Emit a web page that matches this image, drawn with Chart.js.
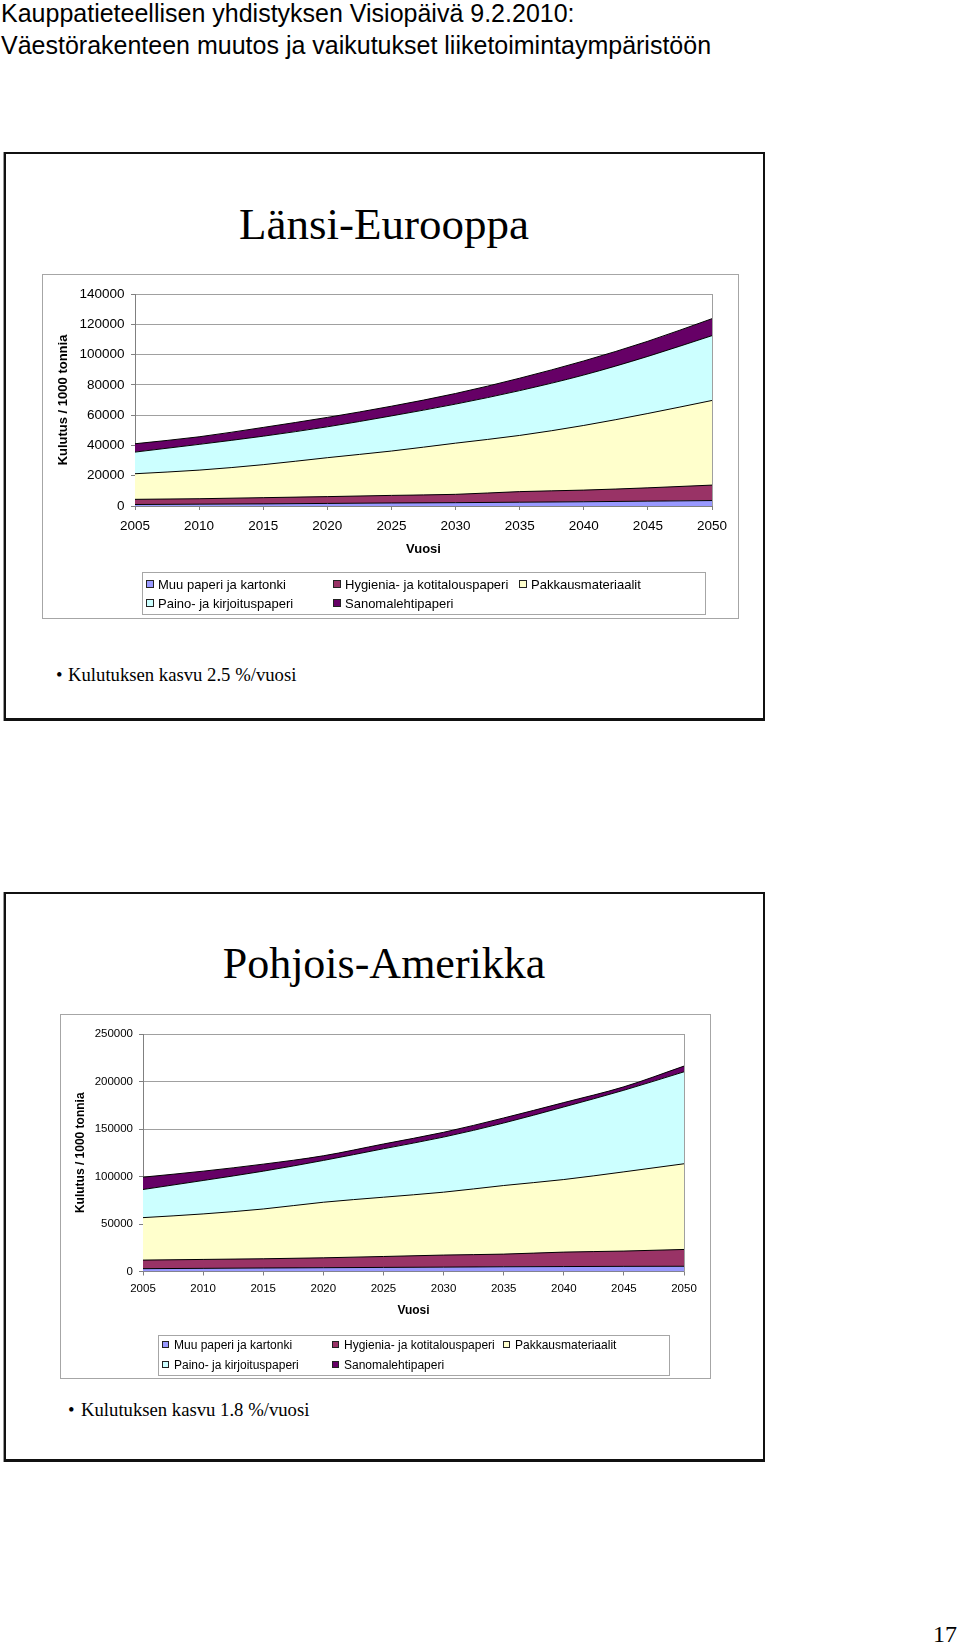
<!DOCTYPE html>
<html><head><meta charset="utf-8">
<script src="https://cdn.jsdelivr.net/npm/chart.js@4.4.1/dist/chart.umd.min.js"></script>
<style>
html,body{margin:0;padding:0;background:#fff;}
body{width:960px;height:1645px;position:relative;overflow:hidden;font-family:"Liberation Sans",Arial,sans-serif;color:#000;}
.t{position:absolute;white-space:nowrap;}
.hdr{font-size:25px;line-height:28px;left:1px;}
.slide{position:absolute;border:2px solid #111;border-bottom-width:3px;box-sizing:border-box;box-shadow:-1px 0 0 #999;}
.ttl{font-family:"Liberation Serif","Times New Roman",serif;line-height:50px;left:4px;width:760px;text-align:center;}
.cbox{position:absolute;border:1px solid #a6a6a6;box-sizing:border-box;}
canvas{position:absolute;}
.legend{position:absolute;border:1px solid #a6a6a6;box-sizing:border-box;}
.mk{position:absolute;border:1px solid #222;box-sizing:border-box;}
.bul{font-family:"Liberation Serif","Times New Roman",serif;font-size:18.7px;line-height:22px;}
</style></head>
<body>
<div class="t hdr" style="top:-1px;">Kauppatieteellisen yhdistyksen Visiopäivä 9.2.2010:</div>
<div class="t hdr" style="top:31px;">Väestörakenteen muutos ja vaikutukset liiketoimintaympäristöön</div>

<div class="slide" style="left:4px;top:152px;width:761px;height:569px;"></div>
<div class="t ttl" style="top:199px;font-size:45px;">Länsi-Eurooppa</div>
<div class="cbox" style="left:42px;top:274px;width:697px;height:345px;"></div>
<canvas id="c1" width="696" height="344" style="left:42px;top:274px;"></canvas>
<div class="legend" style="left:142px;top:572px;width:564px;height:43px;"></div>
<div id="lg1"></div>
<div class="t bul" style="left:56px;top:664px;">•</div>
<div class="t bul" style="left:68px;top:664px;">Kulutuksen kasvu 2.5 %/vuosi</div>

<div class="slide" style="left:4px;top:892px;width:761px;height:570px;"></div>
<div class="t ttl" style="top:939px;font-size:44px;">Pohjois-Amerikka</div>
<div class="cbox" style="left:60px;top:1014px;width:651px;height:365px;"></div>
<canvas id="c2" width="650" height="364" style="left:60px;top:1014px;"></canvas>
<div class="legend" style="left:158px;top:1335px;width:512px;height:41px;"></div>
<div id="lg2"></div>
<div class="t bul" style="left:68px;top:1399px;">•</div>
<div class="t bul" style="left:81px;top:1399px;">Kulutuksen kasvu 1.8 %/vuosi</div>

<div class="t" style="right:3px;top:1621px;font-family:'Liberation Serif',serif;font-size:24px;line-height:27px;">17</div>

<script>
// ---- data ----
const years = ['2005','2010','2015','2020','2025','2030','2035','2040','2045','2050'];
const seriesNames = ['Muu paperi ja kartonki','Hygienia- ja kotitalouspaperi','Pakkausmateriaalit','Paino- ja kirjoituspaperi','Sanomalehtipaperi'];
const seriesColors = ['#9999FF','#993366','#FFFFCC','#CCFFFF','#660066'];

// Länsi-Eurooppa (1000 t)
const weMuu   = [1000, 1200, 1400, 1700, 2000, 2200, 2500, 2800, 3200, 3600];
const weHyg   = [3400, 3600, 4100, 4500, 5000, 5500, 7000, 7700, 8800, 10200];
const wePakk  = [16900, 18900, 21800, 25700, 29300, 33800, 37100, 42700, 49100, 55900];
const wePaino = [14300, 17000, 18800, 20400, 23200, 25800, 29600, 33300, 37700, 42800];
const weSano  = [5500, 5000, 5800, 6200, 6400, 7000, 8200, 9300, 10000, 11200];
const weYTicks = [0, 20000, 40000, 60000, 80000, 100000, 120000, 140000];

// Pohjois-Amerikka (1000 t)
const naMuu   = [3000, 3300, 3700, 4000, 4300, 4600, 5000, 5200, 5400, 5500];
const naHyg   = [9000, 9400, 9700, 10400, 11500, 12700, 13300, 15200, 16100, 17700];
const naPakk  = [44700, 47900, 52400, 58500, 62400, 66200, 72200, 76400, 83400, 90200];
const naPaino = [29600, 35200, 39800, 44000, 51000, 58000, 65800, 76400, 85900, 96800];
const naSano  = [13000, 9800, 7400, 4900, 5000, 5000, 5300, 4600, 3600, 6000];
const naYTicks = [0, 50000, 100000, 150000, 200000, 250000];

const FONT = '"Liberation Sans", Arial, sans-serif';

const plotFrame = {
  id: 'plotFrame',
  beforeDatasetsDraw(chart) {
    const {ctx, chartArea: a} = chart;
    ctx.save();
    ctx.strokeStyle = '#a0a0a0';
    ctx.lineWidth = 1;
    ctx.beginPath();
    ctx.moveTo(Math.round(a.right) + 0.5, Math.round(a.top));
    ctx.lineTo(Math.round(a.right) + 0.5, Math.round(a.bottom));
    ctx.stroke();
    ctx.restore();
  }
};

function buildChart(id, series, yTicks, o) {
  const datasets = series.map((data, i) => ({
    label: seriesNames[i],
    data: data,
    backgroundColor: seriesColors[i],
    borderColor: '#000',
    borderWidth: 1,
    fill: i === 0 ? 'origin' : '-1',
    pointRadius: 0,
    cubicInterpolationMode: 'monotone'
  }));
  return new Chart(document.getElementById(id), {
    type: 'line',
    data: { labels: years, datasets: datasets },
    options: {
      responsive: false,
      animation: false,
      devicePixelRatio: 1,
      layout: { padding: { left: 0, top: o.padTop, right: o.padRight, bottom: o.padBottom } },
      plugins: { legend: { display: false }, tooltip: { enabled: false } },
      scales: {
        x: {
          type: 'category',
          offset: false,
          grid: { display: true, drawOnChartArea: false, drawTicks: true, tickLength: 4, color: '#808080' },
          border: { display: true, color: '#808080' },
          ticks: { color: '#000', font: { family: FONT, size: o.tickSize }, padding: o.xPad, maxRotation: 0, autoSkip: false },
          title: { display: true, text: 'Vuosi', color: '#000', font: { family: FONT, size: o.titleSize, weight: 'bold' }, padding: 0 },
          afterFit: s => { s.height = o.xH; }
        },
        y: {
          stacked: true,
          min: yTicks[0],
          max: yTicks[yTicks.length - 1],
          ticks: { stepSize: yTicks[1] - yTicks[0], color: '#000', font: { family: FONT, size: o.tickSize }, padding: o.yPad, callback: v => String(v) },
          grid: { color: '#a0a0a0', drawTicks: true, tickLength: 4, tickColor: '#808080' },
          border: { display: true, color: '#808080' },
          title: { display: true, text: 'Kulutus / 1000 tonnia', color: '#000', font: { family: FONT, size: o.titleSize, weight: 'bold' }, padding: { top: o.yTitlePad, bottom: 0 } },
          afterFit: s => { s.width = o.yW; }
        }
      }
    },
    plugins: [plotFrame]
  });
}

function buildLegend(hostId, o) {
  const host = document.getElementById(hostId);
  const pos = [[0,0],[1,0],[2,0],[0,1],[1,1]];
  seriesNames.forEach((name, i) => {
    const [c, r] = pos[i];
    const mk = document.createElement('div');
    mk.className = 'mk';
    mk.style.left = o.markX[c] + 'px';
    mk.style.top = (o.rowY[r] - o.mkSize / 2) + 'px';
    mk.style.width = o.mkSize + 'px';
    mk.style.height = o.mkSize + 'px';
    mk.style.background = seriesColors[i];
    host.appendChild(mk);
    const tx = document.createElement('div');
    tx.className = 't';
    tx.textContent = name;
    tx.style.left = o.textX[c] + 'px';
    tx.style.fontSize = o.fs + 'px';
    tx.style.lineHeight = o.lh + 'px';
    tx.style.top = (o.rowY[r] + o.baseOff - o.baseInLine) + 'px';
    host.appendChild(tx);
  });
}

buildChart('c1', [weMuu, weHyg, wePakk, wePaino, weSano], weYTicks, {
  padTop: 20, padRight: 26, padBottom: 61.2, xH: 50.8, yW: 93,
  tickSize: 13.5, titleSize: 13, xPad: 8.6, yPad: 6.5, yTitlePad: 13.2
});
buildChart('c2', [naMuu, naHyg, naPakk, naPaino, naSano], naYTicks, {
  padTop: 20, padRight: 26, padBottom: 59.8, xH: 46.7, yW: 83,
  tickSize: 11.5, titleSize: 12, xPad: 6.6, yPad: 6, yTitlePad: 13.8
});

buildLegend('lg1', { markX: [146, 333, 519], textX: [158, 345, 531], rowY: [584, 603], mkSize: 8, fs: 13, lh: 15, baseOff: 4.6, baseInLine: 12.0 });
buildLegend('lg2', { markX: [162, 332, 503], textX: [174, 344, 515], rowY: [1344.5, 1364.5], mkSize: 7, fs: 12, lh: 14, baseOff: 4.3, baseInLine: 11.2 });
</script>
</body></html>
